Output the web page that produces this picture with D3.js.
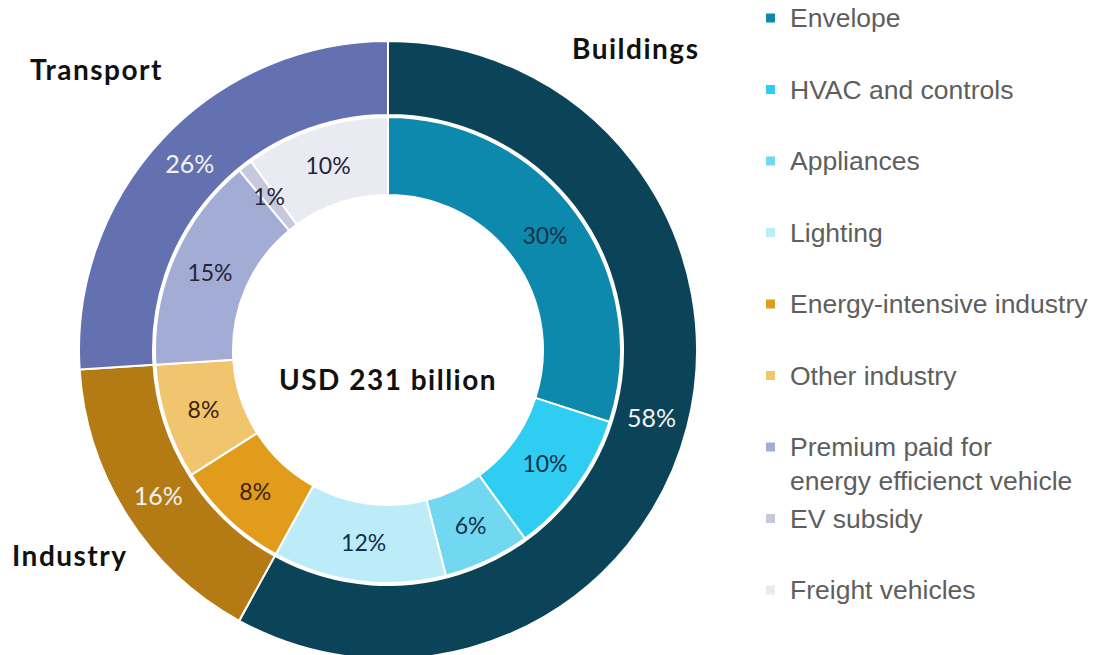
<!DOCTYPE html>
<html>
<head>
<meta charset="utf-8">
<script src="https://cdn.jsdelivr.net/npm/d3@7"></script>
<style>
  body { margin: 0; background: #fff; }
  svg { display: block; }
</style>
</head>
<body>
<svg id="chart"></svg>
<script>
const width = 1093;
const height = 655;

// outer ring: sectors
const sectors = ["Buildings", "Industry", "Transport"];
const sectorShares = [58, 16, 26];
const sectorColors = ["#0b4458", "#b47b14", "#6371b0"];

// inner ring: end uses
const subCategories = ["Envelope", "HVAC and controls", "Appliances", "Lighting",
  "Energy-intensive industry", "Other industry",
  "Premium paid for|energy efficienct vehicle", "EV subsidy", "Freight vehicles"];
const subShares = [30, 10, 6, 12, 8, 8, 15, 1, 10];
const subColors = ["#0e89ae", "#2ecdf1", "#72d8f1", "#bcecf8",
  "#e29c1c", "#f1c46e", "#a3acd4", "#c6c9dd", "#e9eaf2"];
const subTextColors = ["#12324a", "#12324a", "#12324a", "#12324a",
  "#3a2412", "#3a2412", "#23263a", "#23263a", "#23263a"];

const totalLabel = "USD 231 billion";

let svg = d3.select("#chart")
  .attr("width", width)
  .attr("height", height)
  .style("font-family", "Lato, 'DejaVu Sans', sans-serif");

const cx = 388, cy = 350;
let donut = svg.append("g").attr("transform", `translate(${cx},${cy})`);

let pie = d3.pie().sort(null).value(d => d);

let outerArc = d3.arc().innerRadius(235).outerRadius(309);
let innerArc = d3.arc().innerRadius(155).outerRadius(233);

//////////// outer ring
let outerData = pie(sectorShares);
donut.selectAll(".outer")
  .data(outerData)
  .enter().append("path")
  .attr("class", "outer")
  .attr("d", outerArc)
  .attr("fill", (d, i) => sectorColors[i])
  .attr("stroke", "#fff")
  .attr("stroke-width", 2);

donut.selectAll(".outerLabel")
  .data(outerData)
  .enter().append("text")
  .attr("class", "outerLabel")
  .attr("transform", d => `translate(${outerArc.centroid(d)})`)
  .attr("text-anchor", "middle")
  .attr("dy", "0.36em")
  .style("font-size", "25px")
  .style("fill", "#f2f2f2")
  .text(d => d.data + "%");

//////////// inner ring
let innerData = pie(subShares);
donut.selectAll(".inner")
  .data(innerData)
  .enter().append("path")
  .attr("class", "inner")
  .attr("d", innerArc)
  .attr("fill", (d, i) => subColors[i])
  .attr("stroke", "#fff")
  .attr("stroke-width", 2);

donut.selectAll(".innerLabel")
  .data(innerData)
  .enter().append("text")
  .attr("class", "innerLabel")
  .attr("transform", d => `translate(${innerArc.centroid(d)})`)
  .attr("text-anchor", "middle")
  .attr("dy", "0.36em")
  .style("font-size", "23px")
  .style("fill", (d, i) => subTextColors[i])
  .text(d => d.data + "%");

donut.append("text")
  .attr("x", 0)
  .attr("y", 40)
  .attr("text-anchor", "middle")
  .style("font-size", "28px")
  .style("font-weight", "bold")
  .style("letter-spacing", "1.5px")
  .style("fill", "#111")
  .text(totalLabel);

//////////// sector names
const sectorLabelPos = [[572, 59], [12, 566], [30, 80]];
sectors.forEach((s, i) => {
  svg.append("text")
    .attr("x", sectorLabelPos[i][0])
    .attr("y", sectorLabelPos[i][1])
    .style("font-size", "28px")
    .style("font-weight", "bold")
    .style("letter-spacing", "1.5px")
    .style("fill", "#111")
    .text(s);
});

//////////// legend
let legendY = d3.scaleLinear().domain([0, 8]).range([18, 590]);
let legend = svg.append("g").style("font-family", "'Liberation Sans', Arial, sans-serif");

subCategories.forEach((name, i) => {
  let y = legendY(i);
  legend.append("rect")
    .attr("x", 766)
    .attr("y", y - 4.5)
    .attr("width", 9)
    .attr("height", 9)
    .attr("fill", subColors[i]);
  name.split("|").forEach((line, k) => {
    legend.append("text")
      .attr("x", 790)
      .attr("y", y + k * 34)
      .attr("dy", "0.35em")
      .style("font-size", "26.5px")
      .style("fill", "#5e5e5e")
      .text(line);
  });
});
</script>
</body>
</html>
